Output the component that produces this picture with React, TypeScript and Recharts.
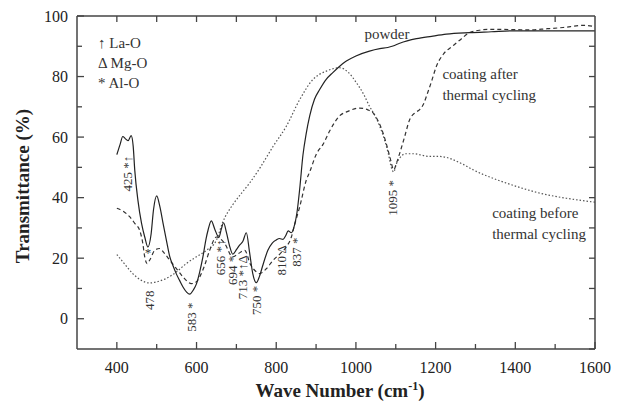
import { LineChart, Line, XAxis, YAxis, ReferenceDot } from 'recharts'

const FONT = '"Liberation Serif", "Times New Roman", serif'

// powder (solid)
const powderW = [400, 408, 415, 421, 428, 436, 441, 445, 453, 462, 470, 478, 486, 492, 500, 508, 516, 525, 533, 541, 549, 558, 566, 575, 583, 592, 600, 608, 616, 624, 629, 637, 646, 656, 662, 668, 675, 683, 691, 700, 708, 716, 725, 733, 741, 750, 758, 766, 779, 790, 800, 808, 817, 824, 830, 838, 846, 852, 859, 867, 875, 884, 896, 909, 925, 942, 960, 976, 1000, 1034, 1060, 1080, 1093, 1110, 1152, 1190, 1227, 1285, 1340, 1394, 1500, 1600]
const powderT = [54.2, 57.5, 60.2, 59.5, 58.8, 60.5, 57, 49, 39, 31.5, 27, 23.7, 28, 36, 40.6, 37, 31.5, 25.5, 20.4, 17.5, 14.9, 12.5, 10.5, 8.8, 8.1, 9.5, 11.6, 15.5, 20.4, 26.5, 29.3, 32.3, 29.5, 26.9, 29.5, 31.7, 28.5, 24, 21.3, 22.8, 24.3, 25.5, 28.4, 22, 15, 11.9, 14, 17.5, 22.6, 25, 26, 26.5, 26.2, 27.5, 29, 28.4, 31, 35, 43, 54, 61, 67, 72.5, 75.7, 79, 81.3, 83.5, 85.1, 86.8, 88.4, 89.2, 89.6, 90.1, 91, 92.5, 93.3, 94, 94.5, 94.8, 95.1, 95.1, 95.1]

// coating after thermal cycling (dashed)
const afterW = [400, 416, 432, 445, 457, 465, 470, 476, 483, 495, 507, 520, 533, 550, 566, 587, 600, 608, 620, 633, 650, 670, 691, 705, 721, 735, 750, 758, 775, 792, 810, 825, 838, 846, 859, 876, 884, 901, 917, 934, 959, 980, 1009, 1030, 1043, 1057, 1068, 1078, 1085, 1095, 1102, 1110, 1122, 1135, 1148, 1160, 1170, 1177, 1190, 1202, 1220, 1243, 1265, 1285, 1310, 1336, 1400, 1436, 1480, 1520, 1570, 1600]
const afterT = [36.5, 35.5, 33.7, 31.5, 29.3, 25, 20.4, 18.2, 19.5, 22.6, 23.2, 21.5, 19.3, 16.5, 13.8, 11.6, 12.2, 13.8, 17.5, 22.6, 27, 25, 20.4, 21.5, 22.6, 18, 15.5, 14.9, 16.5, 19.3, 21.5, 23.7, 27, 31, 37, 46, 48.5, 54.5, 57.5, 62, 67, 68.5, 69.6, 69, 68, 65, 61.4, 57, 53.6, 49.2, 51.5, 54.7, 60, 65.8, 68, 69.1, 71, 73.5, 78.5, 83.4, 87.5, 90.1, 92.5, 94.5, 95.3, 95.6, 95.5, 95.4, 95.8, 96.2, 96.9, 96.5]

// coating before thermal cycling (dotted)
const beforeW = [400, 420, 440, 460, 482, 500, 524, 550, 574, 600, 625, 650, 666, 690, 710, 733, 760, 792, 825, 859, 892, 926, 959, 980, 1001, 1020, 1034, 1048, 1060, 1072, 1081, 1090, 1095, 1101, 1110, 1125, 1143, 1185, 1210, 1269, 1294, 1352, 1378, 1420, 1461, 1528, 1600]
const beforeT = [21.2, 18, 14.9, 12.8, 11.8, 12.2, 13.3, 15.5, 18.2, 20.5, 22.6, 26, 32, 37.5, 41, 44.8, 50, 56.9, 63.5, 72.4, 79, 81.8, 82.9, 81.5, 78, 74, 70.2, 67, 63.5, 59, 54.7, 49.5, 48.5, 51, 53.1, 54.5, 54.5, 53.6, 53.6, 51, 49.2, 46, 44.8, 43, 41.5, 39.8, 38.5]

const xTicks = [400, 500, 600, 700, 800, 900, 1000, 1100, 1200, 1300, 1400, 1500, 1600]
const xLabels = [400, 600, 800, 1000, 1200, 1400, 1600]
const yTicks = [0, 10, 20, 30, 40, 50, 60, 70, 80, 90, 100]
const yLabels = [0, 20, 40, 60, 80, 100]

// peak labels, rotated
const peakW = [427, 478, 482, 587, 660, 691.5, 715, 751.7, 813, 850.5, 1091]
const peakT = [47.9, 21.8, 6.1, 0.5, 20.3, 16, 13.7, 6.1, 19.3, 22, 39.9]
const peakText = ['425 *\u2191', '*', '478', '583 *', '656 *\u2191', '694 *', '713 *\u2191\u0394', '750 *', '810 \u0394', '837 *', '1095 *']
const peakRot = [true, false, true, true, true, true, true, true, true, true, true]

// plain notes
const noteW = [352.7, 352.7, 352.7, 1078, 1217, 1217, 1342, 1342]
const noteT = [91.2, 84.6, 77.9, 94, 80.7, 74, 34.9, 28]
const noteText = ['\u2191 La-O', '\u0394 Mg-O', '* Al-O', 'powder', 'coating after', 'thermal cycling', 'coating before', 'thermal cycling']
const noteAnchor = ['start', 'start', 'start', 'middle', 'start', 'start', 'start', 'start']

const toPts = (w: number[], t: number[]) => w.map((x, i) => ({ w: x, t: t[i] }))
const powder = toPts(powderW, powderT)
const after = toPts(afterW, afterT)
const before = toPts(beforeW, beforeT)

const AXIS = '#444'

const BottomTick = ({ x, y, payload }: any) => {
  const major = xLabels.includes(payload.value)
  return (
    <g>
      <line x1={x} x2={x} y1={y} y2={y - (major ? 7 : 5)} stroke={AXIS} strokeWidth={1.3} />
      {major && (
        <text x={x} y={y + 24} textAnchor="middle" fontFamily={FONT} fontSize={16} fill="#222">
          {payload.value}
        </text>
      )}
    </g>
  )
}

const TopTick = ({ x, y }: any) => (
  <line x1={x} x2={x} y1={y} y2={y + 6} stroke={AXIS} strokeWidth={1.3} />
)

const LeftTick = ({ x, y, payload }: any) => {
  const major = yLabels.includes(payload.value)
  return (
    <g>
      <line x1={x} x2={x + (major ? 7 : 5)} y1={y} y2={y} stroke={AXIS} strokeWidth={1.3} />
      {major && (
        <text x={x - 9} y={y + 5.5} textAnchor="end" fontFamily={FONT} fontSize={16} fill="#222">
          {payload.value}
        </text>
      )}
    </g>
  )
}

const RightTick = ({ x, y }: any) => (
  <line x1={x} x2={x - 6} y1={y} y2={y} stroke={AXIS} strokeWidth={1.3} />
)

const rotLabel = (text: string, rot: boolean) => (props: any) => {
  const { x, y } = props.viewBox
  return (
    <text
      x={x}
      y={y}
      textAnchor="middle"
      dominantBaseline="central"
      transform={rot ? `rotate(-90, ${x}, ${y})` : undefined}
      fontFamily={FONT}
      fontSize={13}
      fill="#333"
    >
      {text}
    </text>
  )
}

const noteLabel = (text: string, anchor: string) => (props: any) => {
  const { x, y } = props.viewBox
  return (
    <text x={x} y={y} textAnchor={anchor as any} dominantBaseline="central" fontFamily={FONT} fontSize={15} fill="#333">
      {text}
    </text>
  )
}

export default function App() {
  return (
    <div style={{ position: 'absolute', left: 0, top: 0, background: '#fff' }}>
      <LineChart width={627} height={407} margin={{ top: 15, right: 31, bottom: 57, left: 76 }}>
        <XAxis
          type="number"
          dataKey="w"
          domain={[300, 1600]}
          allowDataOverflow
          ticks={xTicks}
          tick={<BottomTick />}
          tickSize={0}
          tickMargin={0}
          height={1}
          axisLine={{ stroke: AXIS, strokeWidth: 1.5 }}
          label={{
            content: (p: any) => (
              <text
                x={p.viewBox.x + p.viewBox.width / 2 + 4}
                y={p.viewBox.y + 48}
                textAnchor="middle"
                fontFamily={FONT}
                fontSize={19}
                fontWeight="bold"
                fill="#222"
              >
                Wave Number (cm<tspan dy={-7} fontSize={12}>-1</tspan>
                <tspan dy={7}>)</tspan>
              </text>
            ),
          }}
        />
        <XAxis
          xAxisId="top"
          orientation="top"
          type="number"
          dataKey="w"
          domain={[300, 1600]}
          allowDataOverflow
          ticks={[400, 500, 600, 700, 800, 900, 1000, 1100, 1200, 1300, 1400, 1500]}
          tick={<TopTick />}
          tickSize={0}
          tickMargin={0}
          height={1}
          axisLine={{ stroke: AXIS, strokeWidth: 1.5 }}
        />
        <YAxis
          type="number"
          domain={[-10, 100]}
          allowDataOverflow
          ticks={yTicks}
          tick={<LeftTick />}
          tickSize={0}
          tickMargin={0}
          width={1}
          axisLine={{ stroke: AXIS, strokeWidth: 1.5 }}
          label={{
            content: (p: any) => (
              <text
                x={22}
                y={p.viewBox.y + 170}
                textAnchor="middle"
                dominantBaseline="central"
                transform={`rotate(-90, 22, ${p.viewBox.y + 170})`}
                fontFamily={FONT}
                fontSize={19}
                fontWeight="bold"
                fill="#222"
              >
                Transmittance (%)
              </text>
            ),
          }}
        />
        <YAxis
          yAxisId="right"
          orientation="right"
          type="number"
          domain={[-10, 100]}
          allowDataOverflow
          ticks={[-10, 0, 10, 20, 30, 40, 50, 60, 70, 80, 90]}
          tick={<RightTick />}
          tickSize={0}
          tickMargin={0}
          width={1}
          axisLine={{ stroke: AXIS, strokeWidth: 1.5 }}
        />
        <Line data={before} dataKey="t" type="monotone" stroke="#555" strokeWidth={1.2} strokeDasharray="1.5 2" dot={false} isAnimationActive={false} />
        <Line data={after} dataKey="t" type="monotone" stroke="#333" strokeWidth={1.2} strokeDasharray="4 3" dot={false} isAnimationActive={false} />
        <Line data={powder} dataKey="t" type="monotone" stroke="#222" strokeWidth={1.2} dot={false} isAnimationActive={false} />
        {peakW.map((w, i) => (
          <ReferenceDot key={'p' + i} x={w} y={peakT[i]} r={0} fill="none" stroke="none" ifOverflow="visible" label={{ content: rotLabel(peakText[i], peakRot[i]) }} />
        ))}
        {noteW.map((w, i) => (
          <ReferenceDot key={'n' + i} x={w} y={noteT[i]} r={0} fill="none" stroke="none" ifOverflow="visible" label={{ content: noteLabel(noteText[i], noteAnchor[i]) }} />
        ))}
      </LineChart>
    </div>
  )
}
